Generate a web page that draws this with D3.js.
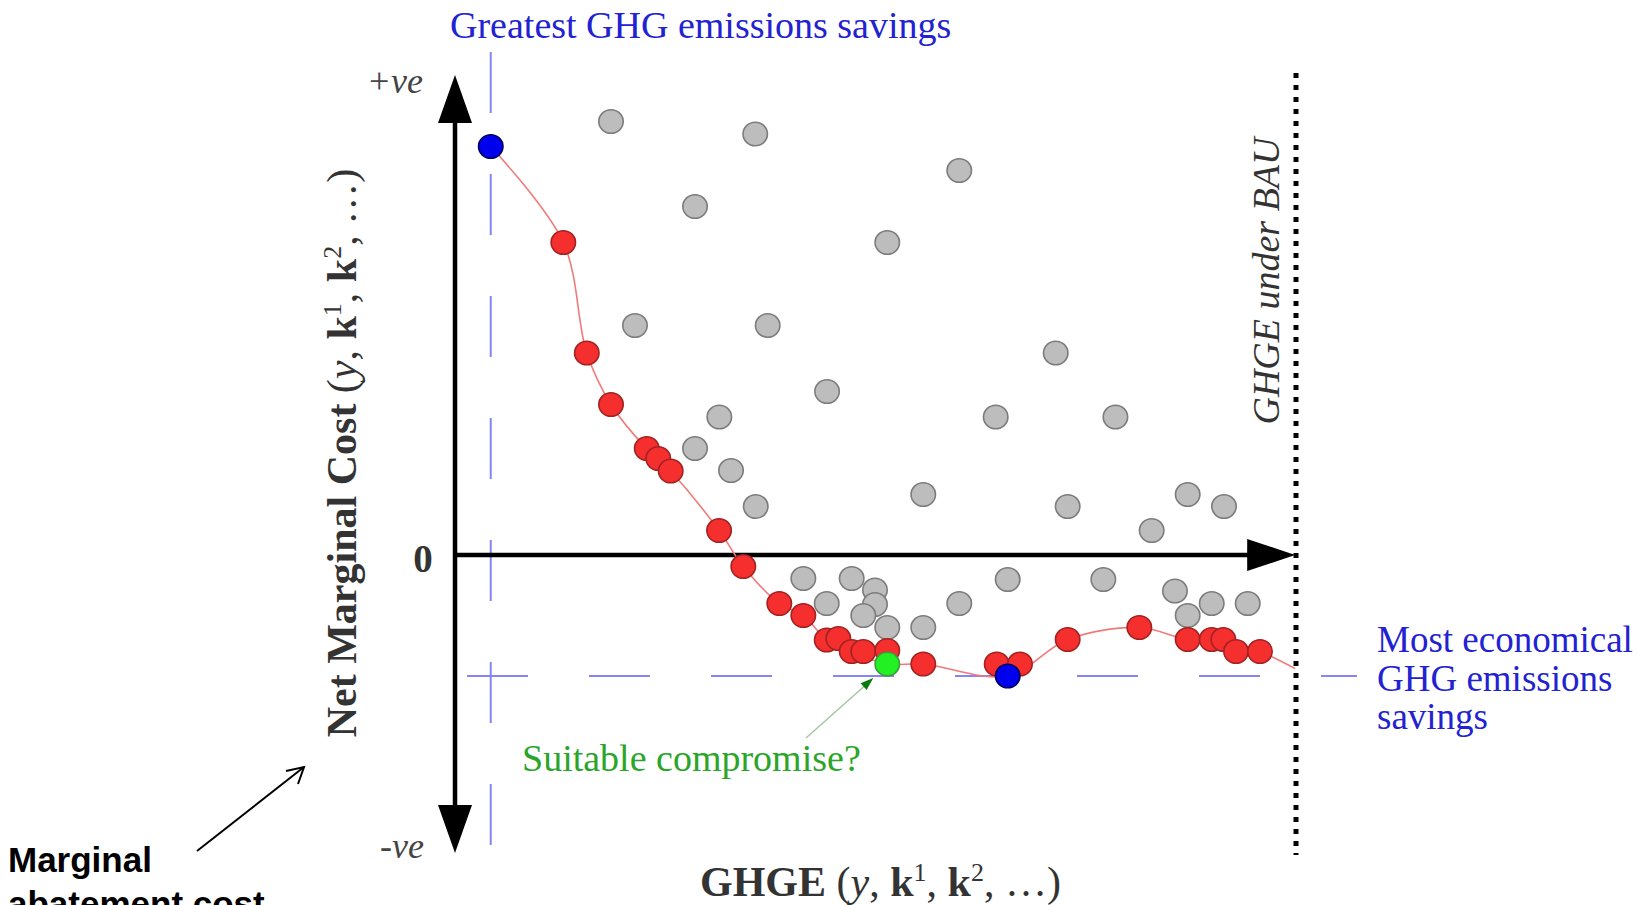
<!DOCTYPE html>
<html>
<head>
<meta charset="utf-8">
<script src="https://cdn.jsdelivr.net/npm/d3@7/dist/d3.min.js"></script>
<style>
  body { margin: 0; background: #ffffff; }
  svg { display: block; }
</style>
</head>
<body>
<div id="chart"></div>
<script>
// GHGE (x) and net marginal cost (y) in arbitrary units
var greySolutions = [
    [18.55, 86.7], [35.7, 84.2], [28.54, 69.7], [59.96, 76.9], [51.4, 62.5],
    [21.4, 45.9], [37.18, 45.9], [71.43, 40.4], [44.24, 32.7], [31.43, 27.6],
    [64.29, 27.6], [78.53, 27.6], [28.54, 21.3], [32.82, 16.9], [35.76, 9.7],
    [55.68, 12.1], [72.85, 9.7], [87.12, 12.1], [91.44, 9.7], [82.84, 4.9],
    [41.42, -4.7], [47.17, -4.7], [65.72, -4.9], [77.09, -4.9], [44.2, -9.7],
    [49.94, -7.0], [49.94, -9.9], [48.55, -12.1], [51.4, -14.5], [59.96, -9.7],
    [55.68, -14.5], [85.61, -7.2], [89.98, -9.7], [94.26, -9.7], [87.12, -12.1]
];

var frontSolutions = [
    [12.88, 62.5], [15.67, 40.4], [18.55, 30.1], [22.8, 21.3], [24.17, 19.3],
    [25.65, 16.8], [31.4, 4.9], [34.28, -2.3], [38.56, -9.7], [41.42, -12.1],
    [44.2, -17.0], [45.58, -16.7], [47.17, -19.3], [48.55, -19.3], [51.4, -19.1],
    [55.68, -21.8], [64.41, -21.8], [67.18, -21.8], [72.85, -16.9], [81.37, -14.5],
    [87.12, -16.9], [89.98, -16.9], [91.36, -16.9], [92.87, -19.3], [95.72, -19.3]
];

var extremeSolutions = [[4.25, 81.7], [65.72, -24.2]];   // greatest savings, most economical
var compromiseSolutions = [[51.4, -21.8]];

// fitted trade-off curve
var frontCurve = [
    [4.25, 81.7], [12.88, 62.5], [15.67, 40.4], [18.55, 30.1], [22.8, 21.3],
    [24.17, 19.3], [25.65, 16.8], [31.4, 4.9], [34.28, -2.3], [38.56, -9.7],
    [41.42, -12.1], [44.2, -17.0], [47.17, -19.3], [51.4, -21.8], [55.68, -21.8],
    [65.72, -24.2], [72.85, -16.9], [81.37, -14.5], [87.12, -16.9], [91.36, -16.9],
    [95.72, -19.3], [99.88, -22.7]
];

var bauLevel = 100;
var yTickLabels = ["+ve", "0", "-ve"];
var yTickValues = [96, 0, -60];

var width = 1643, height = 905;

var svg = d3.select("#chart")
    .append("svg")
    .attr("width", width)
    .attr("height", height)
    .style("font-family", "'Liberation Serif', 'Times New Roman', serif");

var x = d3.scaleLinear().domain([0, 100]).range([455, 1296]);
var y = d3.scaleLinear().domain([-60, 96]).range([855, 75]);

function triangle(tx, ty, dx, dy, len, half) {
    // tip at (tx,ty), pointing along (dx,dy)
    var bx = tx - dx * len, by = ty - dy * len;
    var px = -dy, py = dx;
    return "M" + tx + "," + ty +
        "L" + (bx + px * half) + "," + (by + py * half) +
        "L" + (bx - px * half) + "," + (by - py * half) + "Z";
}

// blue guide lines through the two extreme solutions
var guideColour = "#8585f5";
svg.append("line")
    .attr("x1", x(extremeSolutions[0][0])).attr("x2", x(extremeSolutions[0][0]))
    .attr("y1", y(100.6)).attr("y2", y(-58))
    .attr("stroke", guideColour).attr("stroke-width", 2)
    .attr("stroke-dasharray", "61 61");
svg.append("line")
    .attr("x1", x(1.43)).attr("x2", x(107.25))
    .attr("y1", y(extremeSolutions[1][1])).attr("y2", y(extremeSolutions[1][1]))
    .attr("stroke", guideColour).attr("stroke-width", 2)
    .attr("stroke-dasharray", "61 61");

// BAU dotted line
svg.append("line")
    .attr("x1", x(bauLevel)).attr("x2", x(bauLevel))
    .attr("y1", y(96.4)).attr("y2", y(-60))
    .attr("stroke", "#000").attr("stroke-width", 5)
    .attr("stroke-dasharray", "5 7");

// axes with arrowheads
var x0 = x(0), y0 = y(0);
var yTop = y(yTickValues[0]), yBot = y(-59.6);
svg.append("line")
    .attr("x1", x0).attr("x2", x0)
    .attr("y1", yTop + 46).attr("y2", yBot - 46)
    .attr("stroke", "#000").attr("stroke-width", 4.5);
svg.append("path").attr("d", triangle(x0, yTop, 0, -1, 48, 17)).attr("fill", "#000");
svg.append("path").attr("d", triangle(x0, yBot, 0, 1, 48, 17)).attr("fill", "#000");

var xTip = x(99.9);
svg.append("line")
    .attr("x1", x0 - 2).attr("x2", xTip - 46)
    .attr("y1", y0).attr("y2", y0)
    .attr("stroke", "#000").attr("stroke-width", 4.5);
svg.append("path").attr("d", triangle(xTip, y0, 1, 0, 48, 16)).attr("fill", "#000");

// curve
var line = d3.line()
    .x(function (d) { return x(d[0]); })
    .y(function (d) { return y(d[1]); })
    .curve(d3.curveCatmullRom.alpha(0.5));

svg.append("path")
    .datum(frontCurve)
    .attr("d", line)
    .attr("fill", "none")
    .attr("stroke", "#f07a7a")
    .attr("stroke-width", 1.6);

function drawPoints(data, fill, stroke) {
    svg.append("g")
        .selectAll("circle")
        .data(data)
        .enter()
        .append("ellipse")
        .attr("cx", function (d) { return x(d[0]); })
        .attr("cy", function (d) { return y(d[1]); })
        .attr("rx", 12.2)
        .attr("ry", 11.8)
        .style("fill", fill)
        .style("stroke", stroke)
        .style("stroke-width", 1.6);
}

drawPoints(greySolutions, "#bdbdbd", "#7c7c7c");
drawPoints(frontSolutions, "#f52e2e", "#a32222");
drawPoints(compromiseSolutions, "#22f022", "#3f9a3f");
drawPoints(extremeSolutions, "#0000ee", "#00005a");

// y tick labels
svg.append("text")
    .attr("x", 423).attr("y", 93)
    .attr("text-anchor", "end")
    .style("font-size", "36px").style("font-style", "italic").style("fill", "#444")
    .text(yTickLabels[0]);
svg.append("text")
    .attr("x", 423).attr("y", y(yTickValues[1]) + 17)
    .attr("text-anchor", "middle")
    .style("font-size", "39px").style("font-weight", "bold").style("fill", "#333")
    .text(yTickLabels[1]);
svg.append("text")
    .attr("x", 380).attr("y", 858)
    .style("font-size", "36px").style("font-style", "italic").style("fill", "#444")
    .text(yTickLabels[2]);

// axis titles with bold k vectors and superscripts
function addParts(textSel, parts) {
    var shift = 0;
    parts.forEach(function (p) {
        var t = textSel.append("tspan").text(p.t);
        if (p.w) t.style("font-weight", p.w);
        if (p.i) t.style("font-style", "italic");
        var target = p.sup ? -15 : 0;
        if (target != shift) { t.attr("dy", target - shift); shift = target; }
        if (p.sup) t.style("font-size", "26px");
    });
}
var vectorParts = [
    { t: "(" }, { t: "y", i: true }, { t: ", " }, { t: "k", w: "bold" }, { t: "1", sup: true },
    { t: ", " }, { t: "k", w: "bold" }, { t: "2", sup: true }, { t: ", \u2026)" }
];

var yTitle = svg.append("text")
    .attr("transform", "translate(356,453) rotate(-90)")
    .attr("text-anchor", "middle")
    .style("font-size", "42px").style("fill", "#333");
addParts(yTitle, [{ t: "Net Marginal Cost ", w: "bold" }].concat(vectorParts));

var xTitle = svg.append("text")
    .attr("x", 700).attr("y", 896)
    .style("font-size", "42px").style("fill", "#333");
addParts(xTitle, [{ t: "GHGE ", w: "bold" }].concat(vectorParts));

// annotations
svg.append("text")
    .attr("x", 450).attr("y", 38)
    .style("font-size", "38px").style("fill", "#2222d2")
    .text("Greatest GHG emissions savings");

svg.append("text")
    .attr("transform", "translate(1279,281) rotate(-90)")
    .attr("text-anchor", "middle")
    .style("font-size", "38px").style("font-style", "italic").style("fill", "#333")
    .text("GHGE under BAU");

var econ = svg.append("text")
    .style("font-size", "37px").style("fill", "#2222d2");
["Most economical", "GHG emissions", "savings"].forEach(function (s, i) {
    econ.append("tspan").attr("x", 1377).attr("y", 652 + i * 38.5).text(s);
});

svg.append("text")
    .attr("x", 522).attr("y", 771)
    .style("font-size", "38px").style("fill", "#2aa52a")
    .text("Suitable compromise?");

// pointer from the label to the green solution
var gx = x(compromiseSolutions[0][0]), gy = y(compromiseSolutions[0][1]);
svg.append("line")
    .attr("x1", 806).attr("y1", 738)
    .attr("x2", gx - 16).attr("y2", gy + 16)
    .attr("stroke", "#9fc59f").attr("stroke-width", 1.3);
var ang = Math.atan2(16 - (gy + 16 - 738) * 0, 1);
var dx = (gx - 14) - 806, dy = (gy + 14) - 738, dl = Math.sqrt(dx * dx + dy * dy);
svg.append("path")
    .attr("d", triangle(gx - 14, gy + 14, dx / dl, dy / dl, 13, 4.5))
    .attr("fill", "#0a7a0a");

// side note
var note = svg.append("text")
    .style("font-family", "'Liberation Sans', Arial, sans-serif")
    .style("font-size", "35px").style("font-weight", "bold").style("fill", "#000");
note.append("tspan").attr("x", 8).attr("y", 872).text("Marginal");
note.append("tspan").attr("x", 8).attr("y", 916).text("abatement cost");

svg.append("line")
    .attr("x1", 197).attr("y1", 851).attr("x2", 304).attr("y2", 767)
    .attr("stroke", "#000").attr("stroke-width", 2);
svg.append("path")
    .attr("d", "M286,771 L304,767 L298,784")
    .attr("fill", "none").attr("stroke", "#000").attr("stroke-width", 2);
</script>
</body>
</html>
